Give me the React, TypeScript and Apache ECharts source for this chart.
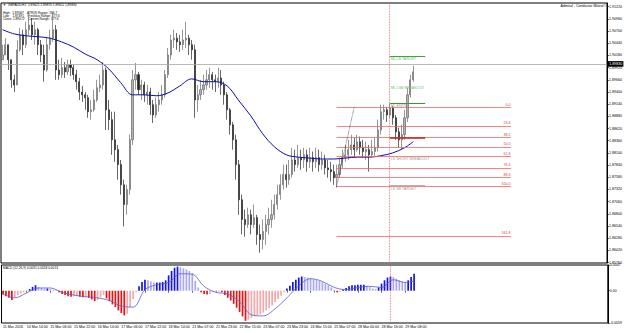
import React, { useEffect, useRef } from 'react';
import * as echarts from 'echarts';

const FONT = 'Liberation Sans, Arial, sans-serif';

// ---- time axis ----
const timeLabels = ['11 Mar 2016', '14 Mar 14:00', '15 Mar 06:00', '15 Mar 22:00', '16 Mar 14:00', '17 Mar 06:00', '17 Mar 22:00', '18 Mar 14:00', '21 Mar 07:00', '21 Mar 23:00', '22 Mar 15:00', '23 Mar 07:00', '23 Mar 23:00', '24 Mar 15:00', '25 Mar 07:00', '28 Mar 00:00', '28 Mar 16:00', '29 Mar 08:00'];
const barsPerLabel = 8;
const slotCount = 205;

// ---- price axis tick labels ----
const priceTicks = [1.8576, 1.8602, 1.8628, 1.8654, 1.868, 1.8706, 1.8732, 1.8758, 1.8784, 1.881, 1.8836, 1.8862, 1.8888, 1.8914, 1.894, 1.8966, 1.8992, 1.9018, 1.9044, 1.907, 1.9096, 1.9122];
const macdTicks = [-0.0059, 0, 0.0047];

// ---- candles (2-hour bars) ----
const firstOpen = 1.9009;
const closes = [
  1.9019, 1.9041, 1.9009, 1.8966, 1.8955, 1.9030, 1.9062, 1.9041, 1.9073, 1.9083,
  1.9062, 1.9073, 1.9041, 1.9019, 1.8987, 1.9041, 1.9055, 1.9073, 1.8987, 1.8977,
  1.8992, 1.8983, 1.8998, 1.8992, 1.8977, 1.8962, 1.8940, 1.8934, 1.8928, 1.8898,
  1.8902, 1.8923, 1.8949, 1.8955, 1.8987, 1.8902, 1.8881, 1.8838, 1.8817, 1.8785,
  1.8742, 1.8700, 1.8732, 1.8838, 1.8966, 1.8977, 1.8945, 1.8955, 1.8934, 1.8940,
  1.8913, 1.8891, 1.8913, 1.8923, 1.8934, 1.8977, 1.9019, 1.9051, 1.9055, 1.9047,
  1.9041, 1.9051, 1.9055, 1.9041, 1.9030, 1.8923, 1.8934, 1.8945, 1.8955, 1.8966,
  1.8977, 1.8966, 1.8962, 1.8970, 1.8955, 1.8934, 1.8902, 1.8870, 1.8838, 1.8785,
  1.8710, 1.8668, 1.8657, 1.8678, 1.8657, 1.8672, 1.8636, 1.8625, 1.8642, 1.8657,
  1.8668, 1.8678, 1.8700, 1.8721, 1.8742, 1.8764, 1.8753, 1.8764, 1.8795, 1.8785,
  1.8800, 1.8795, 1.8806, 1.8791, 1.8800, 1.8791, 1.8800, 1.8785, 1.8795, 1.8778,
  1.8774, 1.8770, 1.8757, 1.8764, 1.8785, 1.8800, 1.8806, 1.8817, 1.8827, 1.8817,
  1.8834, 1.8821, 1.8813, 1.8817, 1.8806, 1.8813, 1.8821, 1.8859, 1.8898, 1.8902,
  1.8891, 1.8906, 1.8885, 1.8855, 1.8838, 1.8849, 1.8885, 1.8934, 1.8966, 1.8983,
];
const highs = [
  1.9041, 1.9055, 1.9041, 1.9009, 1.8977, 1.9051, 1.9077, 1.9073, 1.9090, 1.9104,
  1.9098, 1.9090, 1.9077, 1.9051, 1.9041, 1.9055, 1.9073, 1.9109, 1.9083, 1.9009,
  1.9013, 1.9004, 1.9009, 1.9009, 1.8998, 1.8987, 1.8970, 1.8953, 1.8940, 1.8934,
  1.8923, 1.8945, 1.8966, 1.8977, 1.9004, 1.8992, 1.8923, 1.8898, 1.8898, 1.8827,
  1.8795, 1.8753, 1.8742, 1.8849, 1.8987, 1.9002, 1.8983, 1.8966, 1.8962, 1.8955,
  1.8949, 1.8923, 1.8928, 1.8940, 1.8955, 1.8987, 1.9034, 1.9062, 1.9073, 1.9066,
  1.9062, 1.9073, 1.9090, 1.9062, 1.9051, 1.9041, 1.8955, 1.8966, 1.8977, 1.8987,
  1.8992, 1.8983, 1.8977, 1.8992, 1.8987, 1.8962, 1.8940, 1.8906, 1.8876, 1.8849,
  1.8795, 1.8721, 1.8689, 1.8693, 1.8689, 1.8700, 1.8678, 1.8657, 1.8668, 1.8678,
  1.8693, 1.8710, 1.8721, 1.8742, 1.8764, 1.8785, 1.8785, 1.8795, 1.8821, 1.8817,
  1.8827, 1.8817, 1.8821, 1.8817, 1.8821, 1.8813, 1.8821, 1.8817, 1.8813, 1.8806,
  1.8795, 1.8791, 1.8785, 1.8785, 1.8800, 1.8817, 1.8827, 1.8838, 1.8849, 1.8842,
  1.8849, 1.8845, 1.8838, 1.8834, 1.8827, 1.8838, 1.8842, 1.8881, 1.8913, 1.8913,
  1.8908, 1.8915, 1.8910, 1.8891, 1.8864, 1.8870, 1.8902, 1.8949, 1.8977, 1.8996,
];
const lows = [
  1.9009, 1.9019, 1.8987, 1.8949, 1.8940, 1.8955, 1.9026, 1.9019, 1.9034, 1.9062,
  1.9051, 1.9041, 1.9019, 1.9004, 1.8962, 1.8983, 1.9030, 1.9047, 1.8966, 1.8966,
  1.8970, 1.8970, 1.8977, 1.8974, 1.8966, 1.8945, 1.8923, 1.8919, 1.8902, 1.8885,
  1.8881, 1.8898, 1.8919, 1.8940, 1.8945, 1.8859, 1.8859, 1.8806, 1.8791, 1.8753,
  1.8721, 1.8653, 1.8678, 1.8721, 1.8827, 1.8945, 1.8934, 1.8923, 1.8919, 1.8913,
  1.8891, 1.8874, 1.8885, 1.8898, 1.8913, 1.8928, 1.8970, 1.9009, 1.9034, 1.9030,
  1.9026, 1.9030, 1.9034, 1.9019, 1.9009, 1.8885, 1.8898, 1.8923, 1.8934, 1.8945,
  1.8949, 1.8945, 1.8940, 1.8949, 1.8934, 1.8913, 1.8881, 1.8849, 1.8817, 1.8753,
  1.8678, 1.8636, 1.8631, 1.8650, 1.8636, 1.8650, 1.8614, 1.8597, 1.8604, 1.8614,
  1.8636, 1.8650, 1.8668, 1.8689, 1.8710, 1.8732, 1.8736, 1.8742, 1.8757, 1.8770,
  1.8778, 1.8774, 1.8778, 1.8770, 1.8778, 1.8770, 1.8778, 1.8770, 1.8774, 1.8764,
  1.8757, 1.8749, 1.8742, 1.8736, 1.8757, 1.8778, 1.8791, 1.8795, 1.8806, 1.8800,
  1.8813, 1.8806, 1.8800, 1.8795, 1.8770, 1.8800, 1.8804, 1.8813, 1.8849, 1.8881,
  1.8876, 1.8885, 1.8870, 1.8838, 1.8821, 1.8817, 1.8838, 1.8876, 1.8928, 1.8962,
];

// ---- moving average (read at sample bars) ----
const maBars = [0, 4, 8, 12, 16, 20, 24, 28, 32, 36, 40, 44, 48, 52, 56, 60, 64, 68, 72, 76, 80, 84, 88, 92, 96, 100, 104, 108, 112, 116, 120, 124, 128, 132, 136, 139];
const maValues = [1.9073, 1.9064, 1.9060, 1.9058, 1.9055, 1.9047, 1.9036, 1.9021, 1.9009, 1.8989, 1.8960, 1.8934, 1.8934, 1.8932, 1.8938, 1.8953, 1.8968, 1.8962, 1.8962, 1.8953, 1.8921, 1.8889, 1.8851, 1.8823, 1.8806, 1.8801, 1.8799, 1.8797, 1.8797, 1.8799, 1.8801, 1.8801, 1.8804, 1.8810, 1.8821, 1.8834];

// ---- MACD ----
const macdHist = [
  -0.0007, -0.0010, -0.0013, -0.0017, -0.0012, -0.0008, -0.0005, -0.0003, -0.0001, 0.0003,
  0.0007, 0.0010, 0.0007, 0.0005, 0.0004, 0.0004, 0.0003, 0.0002, 0.0001, -0.0003,
  -0.0006, -0.0008, -0.0010, -0.0011, -0.0010, -0.0010, -0.0011, -0.0012, -0.0011, -0.0013,
  -0.0016, -0.0019, -0.0017, -0.0012, -0.0008, -0.0014, -0.0019, -0.0025, -0.0030, -0.0036,
  -0.0041, -0.0045, -0.0042, -0.0030, -0.0015, -0.0003, 0.0008, 0.0016, 0.0020, 0.0019,
  0.0017, 0.0015, 0.0015, 0.0015, 0.0016, 0.0019, 0.0028, 0.0036, 0.0042, 0.0044,
  0.0043, 0.0041, 0.0039, 0.0036, 0.0032, 0.0018, 0.0006, -0.0003, -0.0006, -0.0007,
  -0.0006, -0.0003, -0.0002, -0.0002, -0.0003, -0.0008, -0.0013, -0.0018, -0.0024, -0.0031,
  -0.0039, -0.0047, -0.0055, -0.0053, -0.0050, -0.0047, -0.0045, -0.0043, -0.0040, -0.0036,
  -0.0032, -0.0027, -0.0021, -0.0015, -0.0009, -0.0003, 0.0004, 0.0009, 0.0016, 0.0020,
  0.0024, 0.0026, 0.0025, 0.0024, 0.0023, 0.0021, 0.0020, 0.0018, 0.0016, 0.0013,
  0.0010, 0.0006, 0.0002, -0.0003, -0.0002, 0.0002, 0.0005, 0.0008, 0.0010, 0.0010,
  0.0011, 0.0011, 0.0011, 0.0009, 0.0007, 0.0004, 0.0003, 0.0006, 0.0013, 0.0019,
  0.0024, 0.0026, 0.0025, 0.0022, 0.0019, 0.0017, 0.0016, 0.0019, 0.0025, 0.0031,
];
const signalBars = [0, 4, 8, 12, 16, 20, 24, 28, 32, 36, 40, 44, 48, 52, 56, 60, 64, 68, 72, 76, 80, 84, 88, 92, 96, 100, 104, 108, 112, 116, 120, 124, 128, 132, 136, 139];
const signalValues = [-0.0006, -0.0013, -0.0004, 0.0005, 0.0005, -0.0003, -0.0008, -0.0011, -0.0013, -0.0018, -0.0028, -0.0030, 0.0002, 0.0011, 0.0015, 0.0031, 0.0030, 0.0008, -0.0003, -0.0006, -0.0020, -0.0044, -0.0046, -0.0033, -0.0013, 0.0009, 0.0022, 0.0017, 0.0006, 0.0002, 0.0006, 0.0008, 0.0006, 0.0020, 0.0015, 0.0018];

// ---- Fibonacci tool ----
const fibLevels = [0, 23.6, 38.2, 50, 61.8, 76.4, 88.6, 100, 161.8];
const fibHigh = 1.8908;
const fibLow = 1.8738;
const fibStartBar = 113;
const fibHighBar = 119;
const fibEndBar = 172;

// ---- Conductor Matrix annotations ----
const markerBar = 131;
const markerEndBar = 143;
const annoLines = [
  { price: 1.9017, text: 'ML LB TARGET', color: '#3aa63a', textColor: '#6cc06c', width: 1 },
  { price: 1.8917, text: 'ML ENTRY', color: '#2e9e2e', textColor: '#9a9a9a', width: 1.2 },
  { price: 1.8842, text: '', color: '#d01818', textColor: '#9a9a9a', width: 1.6 },
  { price: 1.8740, text: 'LS SB TARGET', color: '#c89090', textColor: '#9a9a9a', width: 0.8 },
];
const annoTexts = [
  { price: 1.8949, text: 'ML LSB BREAKOUT', color: '#6cc06c' },
  { price: 1.8798, text: 'LS SHORT BREAKOUT', color: '#9a9a9a' },
];

const headerLines = [
  'GBPAUD,H1  1.89621 1.89870 1.89611 1.89830',
  'High:  1.89567    ATR(3) Range: 186.7',
  'Low:   1.87491    Previous Range: 177.6',
  'Close: 1.89072    Current Range: 177.6',
];
const macdTitle = 'MACD (12,26,9) 0.0031 0.0018 0.0013';
const brandText = 'Admiral - Conductor Matrix\u00a9';

function buildOption(): any {
  const cats = Array.from({ length: slotCount }, (_, i) => String(i));
  const candles = closes.map((c, i) => {
    const o = i === 0 ? firstOpen : closes[i - 1];
    return [o, c, Math.min(lows[i], o, c), Math.max(highs[i], o, c)];
  });
  const maData = maBars.map((b, k) => [b, maValues[k]]);
  const sigData = signalBars.map((b, k) => [b, signalValues[k]]);
  const histData = macdHist.map((v, i) => {
    const prev = i === 0 ? 0 : macdHist[i - 1];
    const rising = v >= prev;
    let color: string;
    if (v >= 0) color = rising ? '#1414e6' : '#a9a9f2';
    else color = rising ? '#f2a9a9' : '#e61414';
    return { value: v, itemStyle: { color } };
  });
  const lastClose = closes[closes.length - 1];
  const labelIdx = (i: number) => i % barsPerLabel === 0 && i / barsPerLabel < timeLabels.length;

  const fibLines = fibLevels.map((l) => {
    const price = fibHigh - ((fibHigh - fibLow) * l) / 100;
    return [
      {
        coord: [fibStartBar, price],
        lineStyle: { color: '#f26464', width: 0.8, type: 'solid' },
        label: { show: true, position: 'insideEndTop', formatter: l.toFixed(1), color: '#e03c3c', fontSize: 3.6, fontFamily: FONT, distance: 0.5 },
      },
      { coord: [fibEndBar, price] },
    ];
  });
  const annoMarkLines = annoLines.map((a) => [
    {
      coord: [markerBar, a.price],
      lineStyle: { color: a.color, width: a.width, type: 'solid' },
      label: { show: a.text !== '', position: 'insideStartBottom', formatter: a.text, color: a.textColor, fontSize: 3.6, fontFamily: FONT, distance: 1 },
    },
    { coord: [markerEndBar, a.price] },
  ]);

  return {
    animation: false,
    backgroundColor: '#ffffff',
    textStyle: { fontFamily: FONT },
    grid: [
      { left: 1, top: 3, width: 607, height: 260, show: true, borderColor: '#000', borderWidth: 1, backgroundColor: 'transparent' },
      { left: 1, top: 265, width: 607, height: 58, show: true, borderColor: '#000', borderWidth: 1, backgroundColor: 'transparent' },
    ],
    xAxis: [
      {
        type: 'category', gridIndex: 0, data: cats, boundaryGap: true,
        axisLine: { show: false }, axisTick: { show: false }, axisLabel: { show: false }, splitLine: { show: false },
      },
      {
        type: 'category', gridIndex: 1, data: cats, boundaryGap: true,
        axisLine: { show: false },
        axisTick: { show: true, alignWithLabel: true, interval: (i: number) => labelIdx(i), length: 2, lineStyle: { color: '#000', width: 0.6 } },
        axisLabel: {
          show: true, interval: (i: number) => labelIdx(i),
          formatter: (_v: string, i: number) => timeLabels[i / barsPerLabel] ?? '',
          align: 'left', fontSize: 3.6, margin: 2, color: '#000', fontFamily: FONT,
        },
        splitLine: { show: false },
      },
    ],
    yAxis: [
      {
        type: 'value', gridIndex: 0, position: 'right', min: 1.8575, max: 1.913, scale: true,
        axisLine: { show: true, lineStyle: { color: '#000', width: 1 } },
        axisTick: { show: true, customValues: priceTicks, length: 2, lineStyle: { color: '#000', width: 0.6 } },
        axisLabel: { show: true, customValues: priceTicks, formatter: (v: number) => v.toFixed(5), fontSize: 3.6, margin: 2, color: '#000', fontFamily: FONT },
        splitLine: { show: false },
      },
      {
        type: 'value', gridIndex: 1, position: 'right', min: -0.0059, max: 0.0047,
        axisLine: { show: true, lineStyle: { color: '#000', width: 1 } },
        axisTick: { show: true, customValues: macdTicks, length: 2, lineStyle: { color: '#000', width: 0.6 } },
        axisLabel: { show: true, customValues: macdTicks, formatter: (v: number) => (v === 0 ? '0.00' : v.toFixed(4)), fontSize: 3.6, margin: 2, color: '#000', fontFamily: FONT },
        splitLine: { show: false },
      },
    ],
    series: [
      {
        type: 'candlestick', xAxisIndex: 0, yAxisIndex: 0, data: candles, barWidth: 1.6,
        itemStyle: { color: '#b2b2b2', color0: '#262626', borderColor: '#6a6a6a', borderColor0: '#262626', borderWidth: 0.7 },
        markLine: {
          silent: true, symbol: ['none', 'none'], animation: false,
          data: [
            {
              yAxis: lastClose,
              lineStyle: { color: '#a8a8a8', width: 0.8, type: 'solid' },
              label: { show: true, position: 'end', formatter: lastClose.toFixed(5), color: '#fff', backgroundColor: '#000', fontSize: 3.6, fontFamily: FONT, padding: [0.8, 1.2], distance: 1 },
            },
            { xAxis: markerBar, lineStyle: { color: '#e25a5a', width: 0.8, type: 'dotted' }, label: { show: false } },
            ...fibLines,
            [
              { coord: [fibStartBar, fibLow], lineStyle: { color: '#000', width: 0.6, type: 'dotted' }, label: { show: false } },
              { coord: [fibHighBar, fibHigh] },
            ],
            ...annoMarkLines,
          ],
        },
        markPoint: {
          silent: true, symbol: 'rect', symbolSize: 0.1, animation: false,
          itemStyle: { color: 'rgba(0,0,0,0)' },
          data: annoTexts.map((t) => ({
            coord: [markerBar, t.price],
            label: { show: true, position: 'right', distance: 1, formatter: t.text, color: t.color, fontSize: 3.6, fontFamily: FONT },
          })),
        },
      },
      {
        type: 'line', xAxisIndex: 0, yAxisIndex: 0, data: maData, smooth: 0.35, showSymbol: false,
        lineStyle: { color: '#0c0cb4', width: 1 }, z: 3,
      },
      {
        type: 'bar', xAxisIndex: 1, yAxisIndex: 1, data: histData, barWidth: 1.7,
        markLine: {
          silent: true, symbol: ['none', 'none'], animation: false,
          data: [{ xAxis: markerBar, lineStyle: { color: '#e25a5a', width: 0.8, type: 'dotted' }, label: { show: false } }],
        },
      },
      {
        type: 'line', xAxisIndex: 1, yAxisIndex: 1, data: sigData, smooth: 0.35, showSymbol: false,
        lineStyle: { color: '#5a5ad2', width: 0.8 }, z: 4,
      },
    ],
    graphic: [
      { type: 'text', x: 3, y: 4.3, style: { text: '\u25bc', fontSize: 3, fill: '#000', verticalAlign: 'middle', fontFamily: FONT } },
      ...headerLines.map((t, k) => ({
        type: 'text', x: k === 0 ? 8 : 3, y: [4.3, 12.3, 15.4, 18.5][k],
        style: { text: t, fontSize: 3.2, fill: '#000', verticalAlign: 'middle', fontFamily: FONT },
      })),
      { type: 'text', x: 606, y: 6, style: { text: brandText, fontSize: 3.6, fill: '#000', align: 'right', verticalAlign: 'middle', fontFamily: FONT } },
      { type: 'text', x: 3, y: 268, style: { text: macdTitle, fontSize: 3.2, fill: '#000', verticalAlign: 'middle', fontFamily: FONT } },
    ],
  };
}

export default function App() {
  const ref = useRef<HTMLDivElement>(null);
  useEffect(() => {
    if (!ref.current) return;
    const chart = echarts.init(ref.current, null, { renderer: 'svg' });
    chart.setOption(buildOption());
    return () => chart.dispose();
  }, []);
  return (
    <div
      ref={ref}
      style={{ position: 'fixed', left: 0, top: 0, width: 625, height: 333, background: '#fff' }}
    />
  );
}
